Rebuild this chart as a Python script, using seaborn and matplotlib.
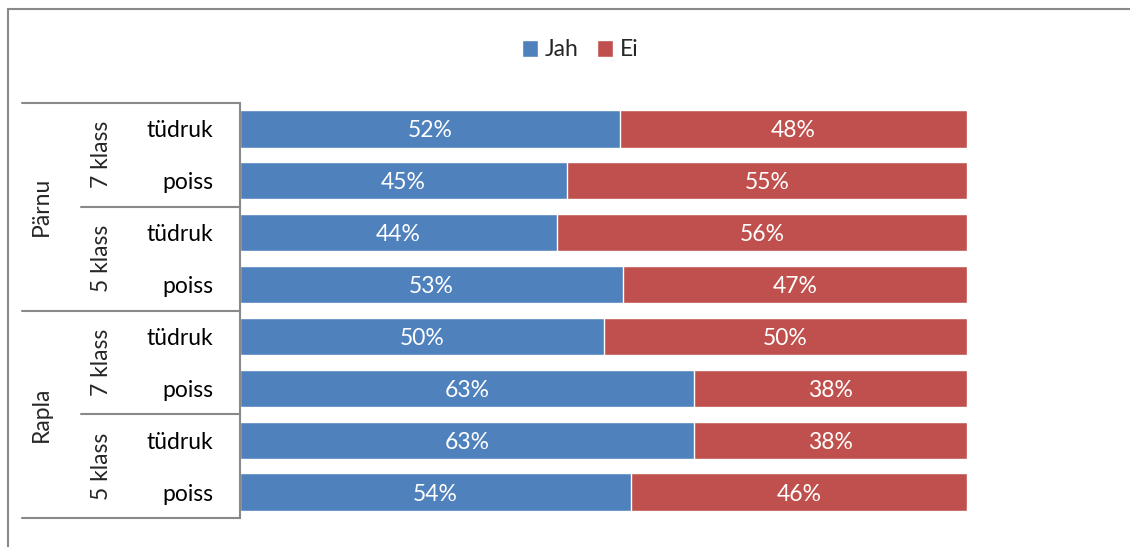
import matplotlib
matplotlib.use("Agg")
import matplotlib.pyplot as plt
import matplotlib.transforms as mtransforms
from matplotlib.lines import Line2D
from matplotlib.patches import Patch
import pandas as pd
import seaborn as sns

# data (share of "Jah" answers, %)
regions = ["Pärnu", "Rapla"]
classes = ["7 klass", "5 klass"]
genders = ["tüdruk", "poiss"]
jah = [52.3, 45.0, 43.6, 52.7, 50.0, 62.5, 62.5, 53.8]

BLUE = "#4F81BD"
RED = "#C0504D"
GRID = "#898989"
FS = 16.5

rows = []
for r in regions:
    for c in classes:
        for g in genders:
            rows.append(f"{r} {c} {g}")
df = pd.DataFrame({"rida": rows, "Jah": jah})
df["Ei"] = 100 - df["Jah"]
df["Kokku"] = 100.0


def pct(v):
    return f"{int(v + 0.5)}%"


sns.set_theme(style="white")
plt.rcParams["font.family"] = ["Lato", "DejaVu Sans"]

W, H = 1130, 547
fig = plt.figure(figsize=(W / 100, H / 100), dpi=100)
ax = fig.add_axes([240 / W, 1 - 518 / H, 727 / W, 415 / H])

# stacked 100% bars: full red bar, blue "Jah" share on top of it
sns.barplot(data=df, x="Kokku", y="rida", color=RED, saturation=1,
            width=0.72, errorbar=None, ax=ax)
sns.barplot(data=df, x="Jah", y="rida", color=BLUE, saturation=1,
            width=0.72, errorbar=None, ax=ax)

for i, row in df.iterrows():
    ax.text(row["Jah"] / 2, i, pct(row["Jah"]), color="white",
            ha="center", va="center_baseline", fontsize=FS)
    ax.text(row["Jah"] + row["Ei"] / 2, i, pct(row["Ei"]), color="white",
            ha="center", va="center_baseline", fontsize=FS)

ax.set_xlim(0, 100)
ax.set_ylim(7.5, -0.5)
ax.set_xticks([])
ax.set_xlabel("")
ax.set_ylabel("")
ax.set_yticks(range(len(rows)))
ax.set_yticklabels(genders * 4, fontsize=FS, color="black",
                   va="center_baseline")
ax.tick_params(axis="y", length=0, pad=19)
for s in ["top", "right", "bottom"]:
    ax.spines[s].set_visible(False)
ax.spines["left"].set_color(GRID)
ax.spines["left"].set_linewidth(1.5)

# hierarchical category axis
tr = mtransforms.blended_transform_factory(ax.transAxes, ax.transData)
for y in [-0.5, 3.5, 7.5]:
    ax.add_line(Line2D([-0.2999, 0], [y, y], transform=tr, color=GRID,
                       lw=1.5, clip_on=False))
for y in [1.5, 5.5]:
    ax.add_line(Line2D([-0.2187, 0], [y, y], transform=tr, color=GRID,
                       lw=1.5, clip_on=False))
for k, c in enumerate(classes * 2):
    ax.text(-0.1905, 0.5 + 2 * k, c, transform=tr, rotation=90,
            ha="center", va="center", fontsize=FS)
for k, r in enumerate(regions):
    ax.text(-0.2735, 1.5 + 4 * k, r, transform=tr, rotation=90,
            ha="center", va="center", fontsize=FS)

handles = [Patch(facecolor=BLUE, label="Jah"), Patch(facecolor=RED, label="Ei")]
fig.legend(handles=handles, loc="center", bbox_to_anchor=(580 / W, 1 - 50 / H),
           ncol=2, frameon=False, fontsize=FS, handlelength=0.7,
           handleheight=0.7, handletextpad=0.3, columnspacing=0.8)

# chart frame (only top and left edges are visible in the crop)
fig.add_artist(Line2D([8 / W, 8 / W], [0, 1 - 9 / H], color=GRID, lw=1.5))
fig.add_artist(Line2D([8 / W, 1], [1 - 9 / H, 1 - 9 / H], color=GRID, lw=1.5))

fig.savefig("out.png", dpi=100)
